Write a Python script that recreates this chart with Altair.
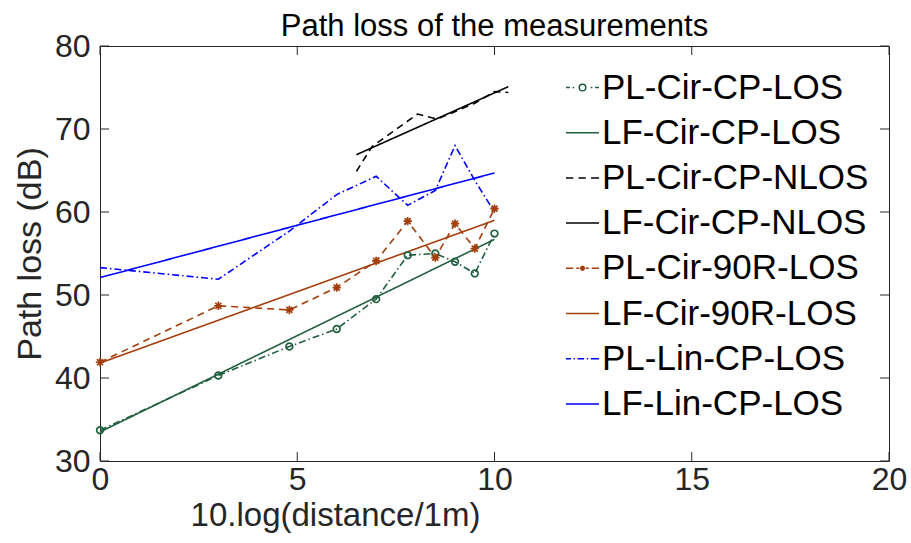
import altair as alt
import pandas as pd

# ---------------- data ----------------
dist_db = [0.0, 3.0, 4.8, 6.0, 7.0, 7.8, 8.5, 9.0, 9.5, 10.0]
pl_cir_cp_los = [33.7, 40.3, 43.8, 45.9, 49.5, 54.8, 55.0, 54.0, 52.6, 57.4]
pl_cir_90r_los = [41.9, 48.7, 48.2, 50.9, 54.1, 58.9, 54.5, 58.6, 55.6, 60.4]
pl_lin_cp_los = [53.3, 51.9, 57.7, 62.1, 64.3, 60.8, 62.6, 68.0, 63.8, 60.0]

nlos_x = [6.5, 6.9, 8.05, 8.55, 9.5, 10.0, 10.35]
pl_cir_cp_nlos = [64.9, 67.9, 71.8, 71.2, 73.1, 74.5, 74.4]

fit_x = [0.0, 10.0]
lf_cir_cp_los = [33.5, 56.7]
lf_cir_90r_los = [41.8, 59.0]
lf_lin_cp_los = [52.1, 64.7]
nlos_fit_x = [6.5, 10.35]
lf_cir_cp_nlos = [66.9, 75.1]

series_names = ["PL-Cir-CP-LOS", "LF-Cir-CP-LOS", "PL-Cir-CP-NLOS", "LF-Cir-CP-NLOS",
                "PL-Cir-90R-LOS", "LF-Cir-90R-LOS", "PL-Lin-CP-LOS", "LF-Lin-CP-LOS"]
series_x = [dist_db, fit_x, nlos_x, nlos_fit_x, dist_db, fit_x, dist_db, fit_x]
series_y = [pl_cir_cp_los, lf_cir_cp_los, pl_cir_cp_nlos, lf_cir_cp_nlos,
            pl_cir_90r_los, lf_cir_90r_los, pl_lin_cp_los, lf_lin_cp_los]

x_ticks = [0, 5, 10, 15, 20]
y_ticks = [30, 40, 50, 60, 70, 80]

rows = []
for name, xs_, ys_ in zip(series_names, series_x, series_y):
    for xv, yv in zip(xs_, ys_):
        rows.append({"series": name, "x": xv, "y": yv})
df = pd.DataFrame(rows)

# ---------------- styles ----------------
GREEN = "#225f3f"
ORANGE = "#a33e0b"
BLUE = "#0000ff"
BLACK = "#000000"
colors = [GREEN, GREEN, BLACK, BLACK, ORANGE, ORANGE, BLUE, BLUE]
dashes = [[7, 3, 1.5, 3], [1, 0], [7, 5], [1, 0], [7, 5], [1, 0], [7, 3, 1.5, 3], [1, 0]]
marker_series = ["PL-Cir-CP-LOS", "PL-Cir-90R-LOS"]
ASTER = "M-1.25,0L1.25,0M0,-1.25L0,1.25M-0.9,-0.9L0.9,0.9M-0.9,0.9L0.9,-0.9"

SOLID = "M-1,0H1"
leg_paths = [
    "M-1,0H-0.76M-0.6,0H-0.5M-0.2,0A0.2,0.2 0 1 1 0.2,0A0.2,0.2 0 1 1 -0.2,0M0.5,0H0.6M0.76,0H1",
    SOLID,
    "M-1,0H-0.56M-0.24,0H0.2M0.52,0H1",
    SOLID,
    "M-1,0H-0.56M-0.38,0H-0.2M-0.16,0H0.16M0,-0.16V0.16M-0.11,-0.11L0.11,0.11M-0.11,0.11L0.11,-0.11M0.2,0H0.38M0.56,0H1",
    SOLID,
    "M-1,0H-0.7M-0.54,0H-0.46M-0.3,0H0.1M0.26,0H0.34M0.5,0H1",
    SOLID,
]

FONT = "Liberation Sans"
AX = "#262626"
W, H = 789, 415

xs = alt.Scale(domain=[0, 20], nice=False, zero=False)
ys = alt.Scale(domain=[30, 80], nice=False, zero=False)

x_axis = alt.Axis(values=x_ticks, title="10.log(distance/1m)", grid=False, ticks=False, domain=False,
                  labelFont=FONT, labelFontSize=32, labelColor=AX, labelPadding=3, labelFlush=False,
                  titleFont=FONT, titleFontSize=33, titleFontWeight="normal", titleColor=AX,
                  titleX=235, titleY=64, titleAlign="center", titleBaseline="alphabetic")
y_axis = alt.Axis(values=y_ticks, title="Path loss (dB)", grid=False, ticks=False, domain=False,
                  labelFont=FONT, labelFontSize=32, labelColor=AX, labelPadding=10, labelFlush=False,
                  titleFont=FONT, titleFontSize=34, titleFontWeight="normal", titleColor=AX,
                  titleX=-60, titleY=H / 2, titleAlign="center", titleBaseline="alphabetic", titleAngle=270)

base = alt.Chart(df)
X = alt.X("x:Q", scale=xs, axis=x_axis, title="10.log(distance/1m)")
Y = alt.Y("y:Q", scale=ys, axis=y_axis, title="Path loss (dB)")

lines = base.mark_line(strokeWidth=1.6).encode(
    x=X, y=Y,
    color=alt.Color("series:N", scale=alt.Scale(domain=series_names, range=colors), legend=None),
    strokeDash=alt.StrokeDash("series:N", scale=alt.Scale(domain=series_names, range=dashes), legend=None),
)

markers = base.transform_filter(
    alt.FieldOneOfPredicate(field="series", oneOf=marker_series)
).mark_point(filled=False, size=45, strokeWidth=1.7, opacity=1).encode(
    x=X, y=Y,
    color=alt.Color("series:N", scale=alt.Scale(domain=marker_series, range=[GREEN, ORANGE]), legend=None),
    shape=alt.Shape("series:N", scale=alt.Scale(domain=marker_series, range=["circle", ASTER]), legend=None),
)

leg = alt.Legend(title=None, orient="none", legendX=465, legendY=24, symbolSize=1089,
                 symbolStrokeWidth=1.5, symbolOpacity=1, labelFont=FONT, labelFontSize=35,
                 labelColor="black", labelLimit=500, rowPadding=9.2, labelOffset=2, padding=0)

legend_layer = base.transform_filter("false").mark_point(filled=False, opacity=1).encode(
    x=X, y=Y,
    color=alt.Color("series:N", scale=alt.Scale(domain=series_names, range=colors), legend=leg),
    shape=alt.Shape("series:N", scale=alt.Scale(domain=series_names, range=leg_paths), legend=leg),
)

xt = alt.Chart(pd.DataFrame({"x": x_ticks}))
yt = alt.Chart(pd.DataFrame({"y": y_ticks}))
tick_len = 9
bottom_ticks = xt.mark_rule(color=AX, strokeWidth=1).encode(
    x=X, y=alt.value(H), y2=alt.value(H - tick_len))
top_ticks = xt.mark_rule(color=AX, strokeWidth=1).encode(
    x=X, y=alt.value(0), y2=alt.value(tick_len))
left_ticks = yt.mark_rule(color=AX, strokeWidth=1).encode(
    y=Y, x=alt.value(0), x2=alt.value(tick_len))
right_ticks = yt.mark_rule(color=AX, strokeWidth=1).encode(
    y=Y, x=alt.value(W), x2=alt.value(W - tick_len))

chart = alt.layer(
    lines, markers, legend_layer, bottom_ticks, top_ticks, left_ticks, right_ticks
).resolve_scale(
    color="independent", shape="independent", strokeDash="independent"
).properties(
    width=W, height=H,
    title=alt.Title("Path loss of the measurements", font=FONT, fontSize=31, fontWeight="normal",
                    color="black", anchor="middle", offset=8, dy=21),
    padding={"left": 100, "top": 46, "right": 22, "bottom": 82},
    autosize=alt.AutoSizeParams(type="none"),
    background="white",
).configure_view(stroke=AX, strokeWidth=1)

chart.save("out.html", embed_options={"renderer": "svg", "actions": False})
